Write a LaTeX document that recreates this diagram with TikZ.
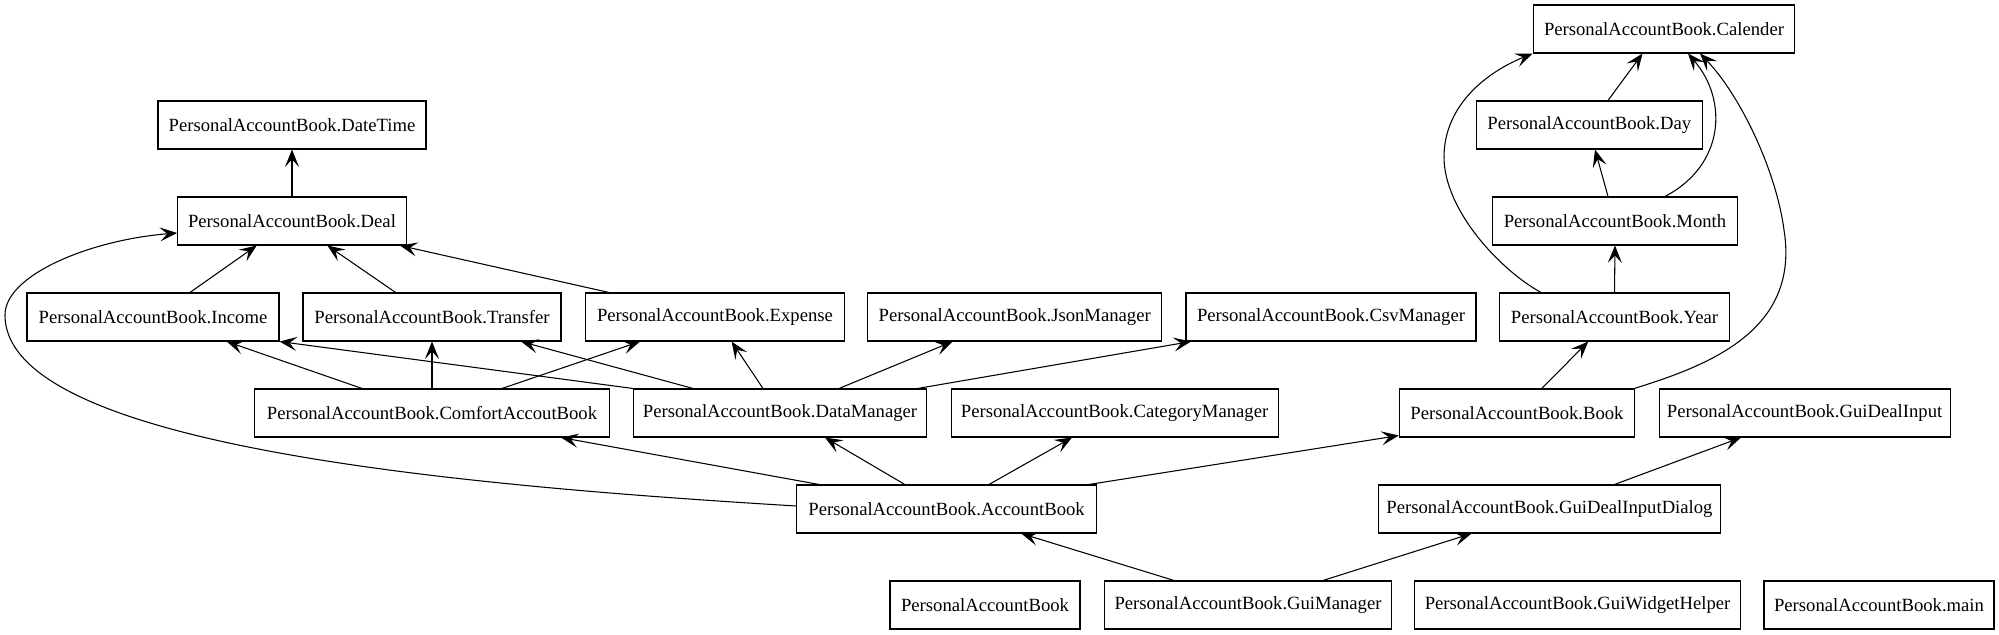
\documentclass[tikz,border=0pt]{standalone}
\usepackage{fontspec}
\setmainfont{Liberation Serif}
\usetikzlibrary{arrows.meta,calc}
\begin{document}
\begin{tikzpicture}[x=0.75pt,y=-0.75pt,
  box/.style={draw, line width=0.8pt, minimum height=36pt, inner sep=0pt,
    font=\fontsize{14pt}{16pt}\selectfont},
  dep/.style={line width=0.8pt, -{Stealth[length=13pt,width=10.5pt,inset=5.5pt]}}]
\useasboundingbox (0,0) rectangle (1999,635);
% nodes
\node[box, minimum width=201pt]   (dt)    at (292,125)   {PersonalAccountBook.DateTime};
\node[box, minimum width=171.4pt] (deal)  at (292,221)   {PersonalAccountBook.Deal};
\node[box, minimum width=189pt]   (inc)   at (153,317)   {PersonalAccountBook.Income};
\node[box, minimum width=193.5pt] (tr)    at (432,317)   {PersonalAccountBook.Transfer};
\node[box, minimum width=194.3pt] (exp)   at (715,317)   {PersonalAccountBook.Expense};
\node[box, minimum width=220.5pt] (json)  at (1014.7,317) {PersonalAccountBook.JsonManager};
\node[box, minimum width=217.5pt] (csv)   at (1331,317)  {PersonalAccountBook.CsvManager};
\node[box, minimum width=172.9pt] (year)  at (1614.5,317) {PersonalAccountBook.Year};
\node[box, minimum width=183.5pt] (month) at (1615,221)  {PersonalAccountBook.Month};
\node[box, minimum width=169.3pt] (day)   at (1589.3,125) {PersonalAccountBook.Day};
\node[box, minimum width=196.3pt] (cal)   at (1664,29)   {PersonalAccountBook.Calender};
\node[box, minimum width=266.3pt] (comf)  at (432,413)   {PersonalAccountBook.ComfortAccoutBook};
\node[box, minimum width=219.8pt] (dm)    at (780,413)   {PersonalAccountBook.DataManager};
\node[box, minimum width=245.3pt] (cat)   at (1114.6,413) {PersonalAccountBook.CategoryManager};
\node[box, minimum width=176.6pt] (book)  at (1517,413)  {PersonalAccountBook.Book};
\node[box, minimum width=218.3pt] (gdi)   at (1804.6,413) {PersonalAccountBook.GuiDealInput};
\node[box, minimum width=224.7pt] (ab)    at (946.6,509) {PersonalAccountBook.AccountBook};
\node[box, minimum width=256.5pt] (gdid)  at (1549.5,509) {PersonalAccountBook.GuiDealInputDialog};
\node[box, minimum width=142.5pt] (pab)   at (985,605)   {PersonalAccountBook};
\node[box, minimum width=215.3pt] (gm)    at (1248,605)  {PersonalAccountBook.GuiManager};
\node[box, minimum width=244.5pt] (gwh)   at (1577.6,605) {PersonalAccountBook.GuiWidgetHelper};
\node[box, minimum width=172.5pt] (main)  at (1879,605)  {PersonalAccountBook.main};
% edges
\draw[dep] (deal.north) -- (dt.south);
\draw[dep] ($(inc.north)+(37,0)$) -- ($(deal.south)+(-35.3,0)$);
\draw[dep] ($(tr.north)+(-36.4,0)$) -- ($(deal.south)+(35.4,0)$);
\draw[dep] ($(exp.north)+(-106,0)$) -- ($(deal.south)+(108,0)$);
\draw[dep] ($(ab.west)+(0,-3)$) .. controls (450,485) and (5,445) .. (5,315)
   .. controls (5,275) and (90,240) .. ($(deal.west)+(0,12)$);
\draw[dep] ($(comf.north)+(-70,0)$) -- ($(inc.south)+(73.7,0)$);
\draw[dep] (comf.north) -- (tr.south);
\draw[dep] ($(comf.north)+(70,0)$) -- ($(exp.south)+(-75,0)$);
\draw[dep] (dm.north west) -- (inc.south east);
\draw[dep] ($(dm.north)+(-87,0)$) -- ($(tr.south)+(89,0)$);
\draw[dep] ($(dm.north)+(-17,0)$) -- ($(exp.south)+(16.6,0)$);
\draw[dep] ($(dm.north)+(59,0)$) -- ($(json.south)+(-62,0)$);
\draw[dep] ($(dm.north)+(137.5,0)$) -- ($(csv.south west)+(5.5,0)$);
\draw[dep] ($(ab.north)+(-127.6,0)$) -- ($(comf.south)+(129,0)$);
\draw[dep] ($(ab.north)+(-41.8,0)$) -- ($(dm.south)+(45,0)$);
\draw[dep] ($(ab.north)+(42.4,0)$) -- ($(cat.south)+(-42.6,0)$);
\draw[dep] ($(ab.north)+(142.4,0)$) -- ($(book.south west)+(0,-2)$);
\draw[dep] ($(book.north)+(24.7,0)$) -- ($(year.south)+(-26.2,0)$);
\draw[dep] ($(book.north east)+(-1,0)$) .. controls (1710,365) and (1800,330) .. (1784,230)
   .. controls (1776,170) and (1740,95) .. ($(cal.south)+(36,0)$);
\draw[dep] ($(year.north)+(-73.5,0)$) .. controls (1500,270) and (1444,210) .. (1444,157)
   .. controls (1444,110) and (1480,75) .. (cal.south west);
\draw[dep] ($(month.north)+(50,0)$) .. controls (1725,165) and (1728,100) .. ($(cal.south)+(24,0)$);
\draw[dep] ($(day.north)+(18.7,0)$) -- ($(cal.south)+(-21.5,0)$);
\draw[dep] ($(month.north)+(-7,0)$) -- ($(day.south)+(5.7,0)$);
\draw[dep] (year.north) -- (month.south);
\draw[dep] ($(gdid.north)+(65,0)$) -- ($(gdi.south)+(-63.6,0)$);
\draw[dep] ($(gm.north)+(-74,0)$) -- ($(ab.south)+(74.7,0)$);
\draw[dep] ($(gm.north)+(75,0)$) -- ($(gdid.south)+(-78,0)$);
\end{tikzpicture}
\end{document}
